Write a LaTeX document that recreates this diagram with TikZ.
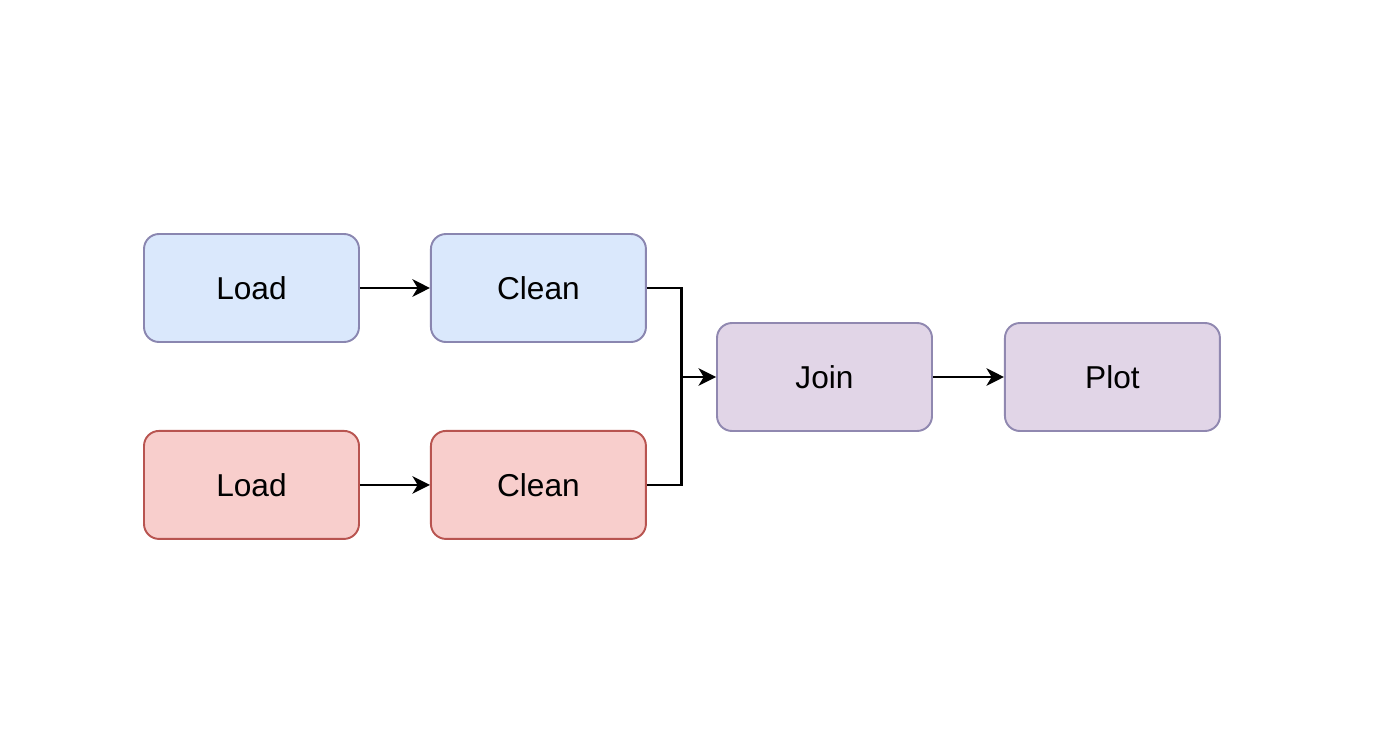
\documentclass[tikz,border=0pt]{standalone}
\usepackage{fontspec}
\setmainfont{Liberation Sans}
\usetikzlibrary{positioning,calc,arrows.meta}

\definecolor{bluefill}{HTML}{DAE8FC}
\definecolor{bluedraw}{HTML}{8A86B0}
\definecolor{redfill}{HTML}{F8CECC}
\definecolor{reddraw}{HTML}{B85450}
\definecolor{purplefill}{HTML}{E1D5E7}
\definecolor{purpledraw}{HTML}{9088B0}

\tikzset{
  stage/.style={draw, rounded corners=0.3cm, line width=1.1pt,
    minimum width=4.3cm, minimum height=2.16cm,
    font=\fontsize{18}{22}\selectfont},
  bluestage/.style={stage, fill=bluefill, draw=bluedraw},
  redstage/.style={stage, fill=redfill, draw=reddraw},
  purplestage/.style={stage, fill=purplefill, draw=purpledraw},
  link/.style={line width=1.2pt, black},
  flow/.style={link, -{Stealth[length=10pt, width=10pt, inset=3pt]}}
}

\begin{document}
\begin{tikzpicture}
   \useasboundingbox (0,0) rectangle (28,-15.1);

   % first source
   \node [bluestage] (load1) at (5.03cm, -5.76cm) {Load};
   \node [bluestage, right=1.40cm of load1] (clean1) {Clean};

   % second source
   \node [redstage, below=1.74cm of load1] (load2) {Load};
   \node [redstage, right=1.40cm of load2] (clean2) {Clean};

   % merge
   \node [purplestage] (join) at (16.49cm, -7.54cm) {Join};
   \node [purplestage, right=1.42cm of join] (plot) {Plot};
   \coordinate (split) at ($(clean1.east)!0.5!(join.west)$);

   \draw [flow] (load1) -- (clean1);
   \draw [flow] (load2) -- (clean2);
   \draw [link] (clean1.east) -| (split);
   \draw [link] (clean2.east) -| (split);
   \draw [flow] (split |- join) -- (join);
   \draw [flow] (join) -- (plot);

\end{tikzpicture}
\end{document}
